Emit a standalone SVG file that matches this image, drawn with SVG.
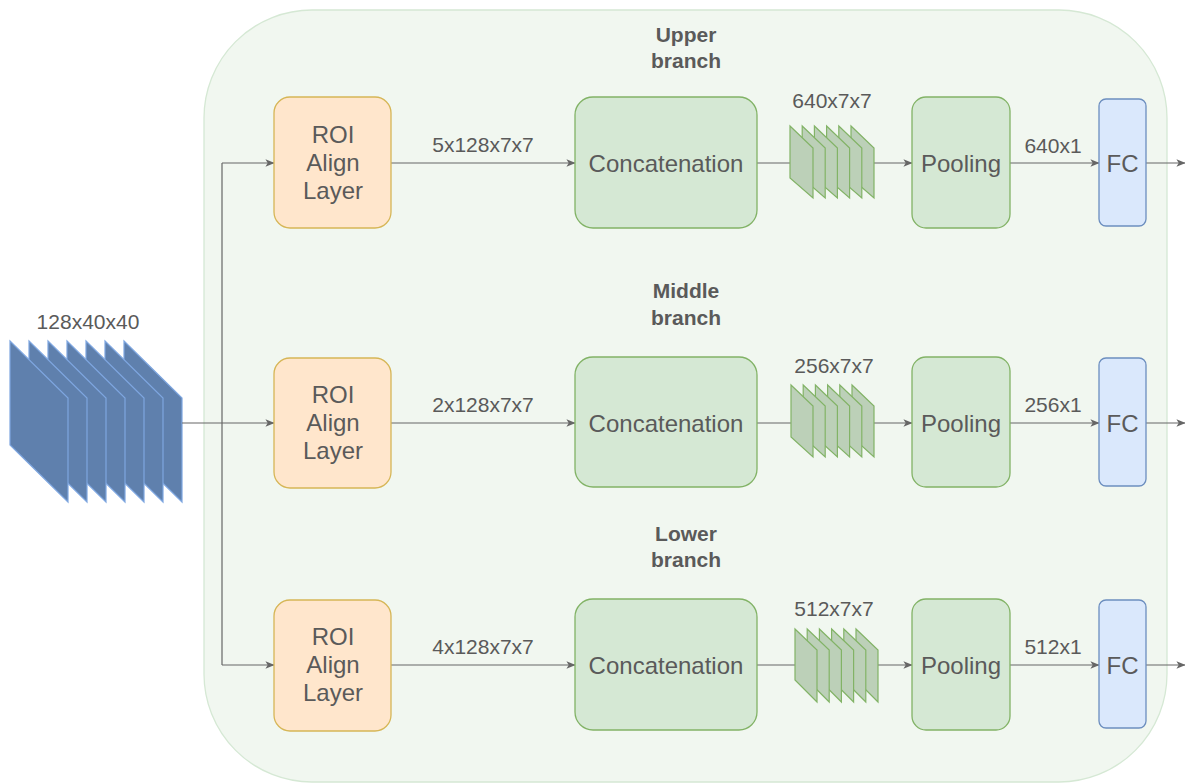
<svg xmlns="http://www.w3.org/2000/svg" width="1187" height="783" viewBox="0 0 1187 783">
<defs>
<marker id="arr" viewBox="0 0 10 10" refX="9.5" refY="5" markerWidth="9" markerHeight="9" markerUnits="userSpaceOnUse" orient="auto">
<path d="M0,0.8 L10,5 L0,9.2 L2.5,5 z" fill="#666666"/>
</marker>
<style>
.t{font-family:"Liberation Sans",Arial,sans-serif;fill:#5a5a5a;text-anchor:middle}
.lab{font-size:21px}
.box{font-size:24px}
.br{font-size:21px;font-weight:bold}
.roi{fill:#ffe6cc;stroke:#d6b656;stroke-width:1.3}
.cat{fill:#d5e8d4;stroke:#82b366;stroke-width:1.3}
.fc{fill:#dae8fc;stroke:#6c8ebf;stroke-width:1.3}
.in{fill:#5f80ad;stroke:#7ea6e0;stroke-width:1.2}
.fm{fill:#bcd0b8;stroke:#82b366;stroke-width:1.2}
.c{fill:none;stroke:#666666;stroke-width:1.2}
</style>
</defs>
<rect width="1187" height="783" fill="#ffffff"/>
<g id="container">
<rect x="204" y="10" width="963" height="772" rx="108" ry="108" fill="#f1f7f0" stroke="#d5e8d4" stroke-width="1.3"/>
</g>
<g id="input">
<polygon class="in" points="124,341 182,398 182,502 124,445"/>
<polygon class="in" points="105,341 163,398 163,502 105,445"/>
<polygon class="in" points="86,341 144,398 144,502 86,445"/>
<polygon class="in" points="67,341 125,398 125,502 67,445"/>
<polygon class="in" points="48,341 106,398 106,502 48,445"/>
<polygon class="in" points="29,341 87,398 87,502 29,445"/>
<polygon class="in" points="10,341 68,398 68,502 10,445"/>
<text class="t lab" x="88" y="329">128x40x40</text>
</g>
<g id="connectors">
<path class="c" d="M182,423 H274" marker-end="url(#arr)"/>
<path class="c" d="M222,163 V665"/>
<path class="c" d="M222,163 H274" marker-end="url(#arr)"/>
<path class="c" d="M222,665 H274" marker-end="url(#arr)"/>
<path class="c" d="M391,163 H575" marker-end="url(#arr)"/>
<path class="c" d="M391,423 H575" marker-end="url(#arr)"/>
<path class="c" d="M391,665 H575" marker-end="url(#arr)"/>
<path class="c" d="M757,163 H790"/>
<path class="c" d="M757,423 H791"/>
<path class="c" d="M757,665 H795"/>
<path class="c" d="M874,163 H912" marker-end="url(#arr)"/>
<path class="c" d="M874,423 H912" marker-end="url(#arr)"/>
<path class="c" d="M878,665 H912" marker-end="url(#arr)"/>
<path class="c" d="M1010,163 H1099" marker-end="url(#arr)"/>
<path class="c" d="M1010,423 H1099" marker-end="url(#arr)"/>
<path class="c" d="M1010,665 H1099" marker-end="url(#arr)"/>
<path class="c" d="M1146,163 H1185" marker-end="url(#arr)"/>
<path class="c" d="M1146,423 H1185" marker-end="url(#arr)"/>
<path class="c" d="M1146,665 H1185" marker-end="url(#arr)"/>
</g>
<g id="branch-labels">
<text class="t br" x="686" y="42">Upper</text>
<text class="t br" x="686" y="68">branch</text>
<text class="t br" x="686" y="298">Middle</text>
<text class="t br" x="686" y="325">branch</text>
<text class="t br" x="686" y="541">Lower</text>
<text class="t br" x="686" y="567">branch</text>
</g>
<g id="edge-labels">
<text class="t lab" x="483" y="152">5x128x7x7</text>
<text class="t lab" x="483" y="412">2x128x7x7</text>
<text class="t lab" x="483" y="654">4x128x7x7</text>
<text class="t lab" x="832" y="108">640x7x7</text>
<text class="t lab" x="834" y="373">256x7x7</text>
<text class="t lab" x="834" y="616">512x7x7</text>
<text class="t lab" x="1053" y="153">640x1</text>
<text class="t lab" x="1053" y="412">256x1</text>
<text class="t lab" x="1053" y="654">512x1</text>
</g>
<g id="roi-upper">
<rect class="roi" x="274" y="97" width="117" height="131" rx="16"/>
<text class="t box" x="333" y="143">ROI</text>
<text class="t box" x="333" y="171">Align</text>
<text class="t box" x="333" y="199">Layer</text>
</g>
<g id="roi-middle">
<rect class="roi" x="274" y="358" width="117" height="130" rx="16"/>
<text class="t box" x="333" y="403">ROI</text>
<text class="t box" x="333" y="431">Align</text>
<text class="t box" x="333" y="459">Layer</text>
</g>
<g id="roi-lower">
<rect class="roi" x="274" y="600" width="117" height="131" rx="16"/>
<text class="t box" x="333" y="645">ROI</text>
<text class="t box" x="333" y="673">Align</text>
<text class="t box" x="333" y="701">Layer</text>
</g>
<g id="concat-upper">
<rect class="cat" x="575" y="97" width="182" height="131" rx="18"/>
<text class="t box" x="666" y="171.5">Concatenation</text>
</g>
<g id="concat-middle">
<rect class="cat" x="575" y="357" width="182" height="130" rx="18"/>
<text class="t box" x="666" y="431.5">Concatenation</text>
</g>
<g id="concat-lower">
<rect class="cat" x="575" y="599" width="182" height="131" rx="18"/>
<text class="t box" x="666" y="673.5">Concatenation</text>
</g>
<g id="fmap-upper">
<polygon class="fm" points="851,126 874,148 874,198 851,178"/>
<polygon class="fm" points="838.8,126 861.8,148 861.8,198 838.8,178"/>
<polygon class="fm" points="826.6,126 849.6,148 849.6,198 826.6,178"/>
<polygon class="fm" points="814.4,126 837.4,148 837.4,198 814.4,178"/>
<polygon class="fm" points="802.2,126 825.2,148 825.2,198 802.2,178"/>
<polygon class="fm" points="790,126 813,148 813,198 790,178"/>
</g>
<g id="fmap-middle">
<polygon class="fm" points="852,385 874,406 874,457 852,437"/>
<polygon class="fm" points="839.8,385 861.8,406 861.8,457 839.8,437"/>
<polygon class="fm" points="827.6,385 849.6,406 849.6,457 827.6,437"/>
<polygon class="fm" points="815.4,385 837.4,406 837.4,457 815.4,437"/>
<polygon class="fm" points="803.2,385 825.2,406 825.2,457 803.2,437"/>
<polygon class="fm" points="791,385 813,406 813,457 791,437"/>
</g>
<g id="fmap-lower">
<polygon class="fm" points="856,629 878,650 878,702 856,680"/>
<polygon class="fm" points="843.8,629 865.8,650 865.8,702 843.8,680"/>
<polygon class="fm" points="831.6,629 853.6,650 853.6,702 831.6,680"/>
<polygon class="fm" points="819.4,629 841.4,650 841.4,702 819.4,680"/>
<polygon class="fm" points="807.2,629 829.2,650 829.2,702 807.2,680"/>
<polygon class="fm" points="795,629 817,650 817,702 795,680"/>
</g>
<g id="pool-upper">
<rect class="cat" x="912" y="97" width="98" height="131" rx="14"/>
<text class="t box" x="961" y="171.5">Pooling</text>
</g>
<g id="pool-middle">
<rect class="cat" x="912" y="357" width="98" height="130" rx="14"/>
<text class="t box" x="961" y="431.5">Pooling</text>
</g>
<g id="pool-lower">
<rect class="cat" x="912" y="599" width="98" height="131" rx="14"/>
<text class="t box" x="961" y="673.5">Pooling</text>
</g>
<g id="fc-upper">
<rect class="fc" x="1099" y="99" width="47" height="127" rx="7"/>
<text class="t box" x="1122.5" y="171.5">FC</text>
</g>
<g id="fc-middle">
<rect class="fc" x="1099" y="358" width="47" height="128" rx="7"/>
<text class="t box" x="1122.5" y="431.5">FC</text>
</g>
<g id="fc-lower">
<rect class="fc" x="1099" y="600" width="47" height="128" rx="7"/>
<text class="t box" x="1122.5" y="673.5">FC</text>
</g>
</svg>
